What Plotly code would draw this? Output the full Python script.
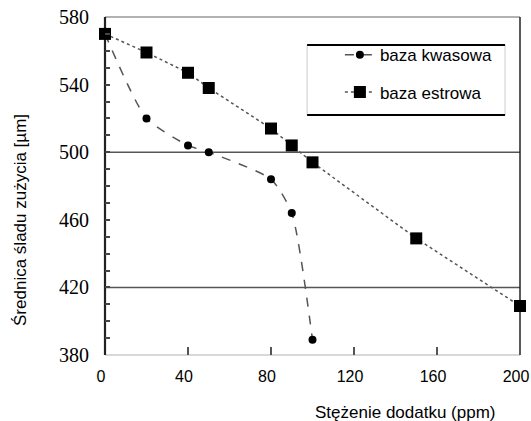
import plotly.graph_objects as go

kw_x = [0, 20, 40, 50, 80, 90, 100]
kw_y = [570, 520, 504, 500, 484, 464, 389]
es_x = [0, 20, 40, 50, 80, 90, 100, 150, 200]
es_y = [570, 559, 547, 538, 514, 504, 494, 449, 409]
x_ticks = [0, 40, 80, 120, 160, 200]
y_ticks = [380, 420, 460, 500, 540, 580]
ref_lines = [500, 420]

fig = go.Figure()
fig.add_trace(go.Scatter(
    x=kw_x, y=kw_y, name="baza kwasowa", mode="lines+markers", legendgroup="a",
    line=dict(color="#555555", width=1.5, dash="dash", shape="spline", smoothing=0.6),
    marker=dict(symbol="circle", size=8, color="black"), cliponaxis=False,
))
fig.add_trace(go.Scatter(
    x=es_x, y=es_y, name="baza estrowa", mode="lines+markers", legendgroup="b",
    line=dict(color="#555555", width=1.5, dash="dot"),
    marker=dict(symbol="square", size=12, color="black"), cliponaxis=False,
))

for v in ref_lines:
    fig.add_shape(type="line", xref="paper", x0=0, x1=1, yref="y", y0=v, y1=v,
                  line=dict(color="#555555", width=1.5), layer="below")

# frame
fig.add_shape(type="line", xref="paper", yref="paper", x0=0, x1=1, y0=1, y1=1,
              line=dict(color="#666666", width=1.2), layer="below")
fig.add_shape(type="line", xref="paper", yref="paper", x0=0, x1=1, y0=0, y1=0,
              line=dict(color="#cccccc", width=1.5), layer="below")
fig.add_shape(type="line", xref="paper", yref="paper", x0=0, x1=0, y0=0, y1=1,
              line=dict(color="#222222", width=2.2), layer="below")
fig.add_shape(type="line", xref="paper", yref="paper", x0=1, x1=1, y0=0, y1=1,
              line=dict(color="#222222", width=1.5), layer="below")

# legend box
fig.add_shape(type="rect", xref="paper", yref="paper", x0=0.487, x1=0.964, y0=0.710, y1=0.917,
              line=dict(color="#cccccc", width=1), fillcolor="white", layer="below")
fig.add_shape(type="line", xref="paper", yref="paper", x0=0.487, x1=0.964, y0=0.917, y1=0.917,
              line=dict(color="black", width=2))
fig.add_shape(type="line", xref="paper", yref="paper", x0=0.487, x1=0.964, y0=0.710, y1=0.710,
              line=dict(color="black", width=2))

fig.update_layout(
    width=531, height=421,
    margin=dict(l=105, r=11, t=17, b=66, autoexpand=False),
    paper_bgcolor="white", plot_bgcolor="white",
    showlegend=True,
    legend=dict(x=0.566, y=0.940, xanchor="left", yanchor="top",
                bgcolor="rgba(0,0,0,0)", borderwidth=0,
                font=dict(family="Liberation Sans, Arial", size=17, color="black"),
                tracegroupgap=12, itemwidth=30),
    xaxis=dict(range=[0, 200], tickvals=x_ticks, ticks="inside", ticklen=8,
               tickcolor="#555555", tickwidth=2, showgrid=False, zeroline=False,
               showline=False, ticklabelstandoff=10, ticklabeloverflow="allow",
               ticklabelshift=-4, automargin=False,
               tickfont=dict(family="Liberation Sans, Arial", size=16, color="black")),
    yaxis=dict(range=[380, 580], tickvals=y_ticks, ticks="inside", ticklen=5,
               tickcolor="#444444", tickwidth=1.5, showgrid=False, zeroline=False,
               showline=False, ticklabelstandoff=15, ticklabeloverflow="allow",
               automargin=False,
               minor=dict(dtick=10, ticks="inside", ticklen=5, tickcolor="#444444", tickwidth=1.5),
               tickfont=dict(family="Liberation Serif, Times New Roman", size=20, color="black")),
    annotations=[
        dict(text="Stężenie dodatku (ppm)", xref="paper", yref="paper", x=0.723, y=-0.136,
             xanchor="center", yanchor="top", showarrow=False,
             font=dict(family="Liberation Sans, Arial", size=17, color="black")),
        dict(text="Średnica śladu zużycia [µm]", xref="paper", yref="paper", x=-0.202, y=0.40,
             xanchor="center", yanchor="middle", textangle=-90, showarrow=False,
             font=dict(family="Liberation Sans, Arial", size=17, color="black")),
    ],
)

fig.write_html("out.html", config={"displayModeBar": False},
               post_script="document.body.style.margin='0';document.body.style.overflow='hidden';")
